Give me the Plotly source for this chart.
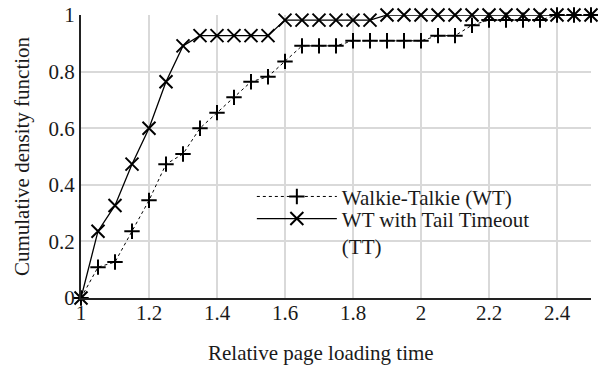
import plotly.graph_objects as go

# Data
x_wt = [1.0, 1.05, 1.1, 1.15, 1.2, 1.25, 1.3, 1.35, 1.4, 1.45, 1.5, 1.55, 1.6, 1.65, 1.7, 1.75,
        1.8, 1.85, 1.9, 1.95, 2.0, 2.05, 2.1, 2.15, 2.2, 2.25, 2.3, 2.35, 2.4, 2.45, 2.5]
y_wt = [0.0, 0.109, 0.127, 0.236, 0.345, 0.473, 0.509, 0.6, 0.655, 0.709, 0.764, 0.782, 0.836,
        0.891, 0.891, 0.891, 0.909, 0.909, 0.909, 0.909, 0.909, 0.927, 0.927, 0.964, 0.982,
        0.982, 0.982, 0.982, 1.0, 1.0, 1.0]

x_tt = [1.0, 1.05, 1.1, 1.15, 1.2, 1.25, 1.3, 1.35, 1.4, 1.45, 1.5, 1.55, 1.6, 1.65, 1.7, 1.75,
        1.8, 1.85, 1.9, 1.95, 2.0, 2.05, 2.1, 2.15, 2.2, 2.25, 2.3, 2.35, 2.4, 2.45, 2.5]
y_tt = [0.0, 0.236, 0.327, 0.473, 0.6, 0.764, 0.891, 0.927, 0.927, 0.927, 0.927, 0.927, 0.982,
        0.982, 0.982, 0.982, 0.982, 0.982, 1.0, 1.0, 1.0, 1.0, 1.0, 1.0, 1.0, 1.0, 1.0, 1.0,
        1.0, 1.0, 1.0]

x_ticks = [1, 1.2, 1.4, 1.6, 1.8, 2, 2.2, 2.4]
y_ticks = [0, 0.2, 0.4, 0.6, 0.8, 1]
x_title = "Relative page loading time"
y_title = "Cumulative density function"

FONT = "Liberation Serif"
TXT = "#1a1a1a"
F = dict(family=FONT, size=21, color=TXT)

fig = go.Figure()
fig.add_trace(go.Scatter(
    x=x_wt, y=y_wt, mode="lines+markers", name="Walkie-Talkie (WT)",
    line=dict(color="black", width=1, dash="dot"),
    marker=dict(symbol="cross-thin", size=11, line=dict(color="black", width=2), color="black"),
    cliponaxis=False, legend="legend",
))
fig.add_trace(go.Scatter(
    x=x_tt, y=y_tt, mode="lines+markers", name="WT with Tail Timeout<br>(TT)",
    line=dict(color="black", width=1.3),
    marker=dict(symbol="x-thin", size=13, line=dict(color="black", width=2), color="black"),
    cliponaxis=False, legend="legend2",
))

leg_common = dict(xanchor="left", yanchor="top", bgcolor="rgba(0,0,0,0)",
                  valign="top", itemwidth=80, tracegroupgap=0, font=F)

fig.update_layout(
    width=598, height=366,
    margin=dict(l=81, r=7, t=15, b=68),
    paper_bgcolor="white", plot_bgcolor="white",
    font=F,
    showlegend=True,
    legend=dict(x=0.335, y=0.430, **leg_common),
    legend2=dict(x=0.335, y=0.352, **leg_common),
    xaxis=dict(range=[1, 2.5], tickvals=x_ticks, ticktext=[str(v) for v in x_ticks],
               tickfont=F, automargin=False, ticklabelstandoff=-5,
               showgrid=True, gridcolor="#d9d9d9", gridwidth=1.5,
               showline=True, linecolor="#222", linewidth=2, zeroline=False,
               ticks="", ticklen=0),
    yaxis=dict(range=[0, 1], tickvals=y_ticks, ticktext=["0", "0.2", "0.4", "0.6", "0.8", "1"],
               tickfont=F, automargin=False,
               showgrid=True, gridcolor="#d9d9d9", gridwidth=1.5,
               showline=True, linecolor="#222", linewidth=2, zeroline=False,
               ticks="", title=dict(text=y_title, standoff=13, font=F)),
    annotations=[dict(text=x_title, xref="paper", yref="paper", x=0.47, y=-0.193,
                      xanchor="center", yanchor="middle", showarrow=False, font=F)],
)

fig.write_html("out.html", post_script="document.body.style.margin='0';",
               config={"displayModeBar": False})
